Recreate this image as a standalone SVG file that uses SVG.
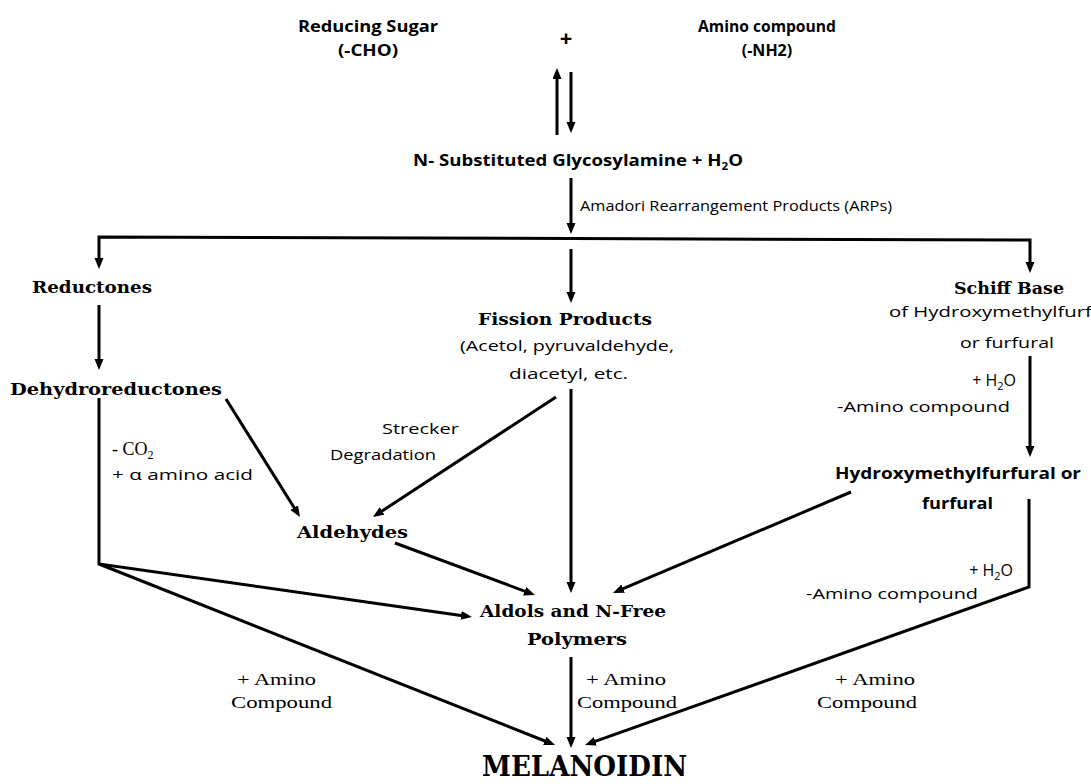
<svg xmlns="http://www.w3.org/2000/svg" width="1091" height="784" viewBox="0 0 1091 784">
<defs>
<marker id="ah" markerUnits="userSpaceOnUse" markerWidth="12" markerHeight="10" refX="7" refY="4.5" orient="auto-start-reverse">
<path d="M0,0 L11,4.5 L0,9 z" fill="#000"/>
</marker>
<style>
.sb{font-family:"Open Sans","Liberation Sans",sans-serif;font-weight:bold;font-size:16px;fill:#000}
.sr{font-family:"Open Sans","Liberation Sans",sans-serif;font-size:15px;fill:#000}
.h2o{font-size:16px}
.fb{font-family:"DejaVu Serif","Liberation Serif",serif;font-weight:bold;font-size:17px;fill:#000}
.fr{font-family:"Liberation Serif","Times New Roman",serif;font-size:17px;fill:#000}
.sub{font-size:11px}
.c{fill:none;stroke:#000;stroke-width:3}
.a{marker-end:url(#ah)}
</style>
</defs>
<rect width="1091" height="784" fill="#fff"/>

<g id="connectors">
<path class="c a" d="M557,135 L557,72"/>
<path class="c a" d="M571,72 L571,129"/>
<path class="c a" d="M571,178 L571,230"/>
<path class="c" d="M99,265 L99,237 L1030,240 L1030,269" marker-start="url(#ah)" marker-end="url(#ah)"/>
<path class="c a" d="M571,249 L571,299"/>
<path class="c a" d="M99,305 L99,366"/>
<path class="c a" d="M99,398 L99,564 L468,616.4"/>
<path class="c a" d="M99,564 L551.3,743.5"/>
<path class="c a" d="M226,399 L297.9,513.6"/>
<path class="c a" d="M556,397 L376.3,514.8"/>
<path class="c a" d="M571,389 L571,589"/>
<path class="c a" d="M395,543 L531.2,593.6"/>
<path class="c a" d="M851,492 L616.7,591.4"/>
<path class="c a" d="M1030,356 L1030,453"/>
<path class="c a" d="M1029,499 L1029,587 L588.8,743.7"/>
<path class="c a" d="M571,657 L571,744"/>
</g>

<g id="reactants">
<text class="sb" x="298" y="32" textLength="140" lengthAdjust="spacingAndGlyphs">Reducing Sugar</text>
<text class="sb" x="338" y="56" textLength="60" lengthAdjust="spacingAndGlyphs">(-CHO)</text>
<text class="sb" x="566" y="46" text-anchor="middle" style="font-size:22px">+</text>
<text class="sb" x="698" y="32" textLength="138" lengthAdjust="spacingAndGlyphs">Amino compound</text>
<text class="sb" x="767" y="56" text-anchor="middle">(-NH2)</text>
</g>

<g id="glycosylamine">
<text class="sb" x="413" y="166" textLength="330" lengthAdjust="spacingAndGlyphs">N- Substituted Glycosylamine + H<tspan style="font-size:10px" dy="4">2</tspan><tspan dy="-4">O</tspan></text>
<text class="sr" x="580" y="211" style="font-size:14px" textLength="312" lengthAdjust="spacingAndGlyphs">Amadori Rearrangement Products (ARPs)</text>
</g>

<g id="reductones">
<text class="fb" x="32" y="293" textLength="120" lengthAdjust="spacingAndGlyphs">Reductones</text>
</g>

<g id="dehydroreductones">
<text class="fb" x="10" y="395" textLength="212" lengthAdjust="spacingAndGlyphs">Dehydroreductones</text>
<text class="fr" x="112" y="455" style="font-size:18px">-  CO<tspan style="font-size:12px" dy="4">2</tspan></text>
<text class="sr" x="112" y="480" textLength="141" lengthAdjust="spacingAndGlyphs">+ α amino acid</text>
</g>

<g id="fission">
<text class="fb" x="478" y="325" textLength="174" lengthAdjust="spacingAndGlyphs">Fission Products</text>
<text class="sr" x="460" y="351" textLength="214" lengthAdjust="spacingAndGlyphs">(Acetol, pyruvaldehyde,</text>
<text class="sr" x="509" y="379" textLength="119" lengthAdjust="spacingAndGlyphs">diacetyl, etc.</text>
<text class="sr" x="382" y="434" textLength="77" lengthAdjust="spacingAndGlyphs">Strecker</text>
<text class="sr" x="330" y="460" textLength="106" lengthAdjust="spacingAndGlyphs">Degradation</text>
</g>

<g id="schiff">
<text class="fb" x="954" y="294" textLength="110" lengthAdjust="spacingAndGlyphs">Schiff Base</text>
<text class="sr" x="889" y="317" textLength="240" lengthAdjust="spacingAndGlyphs">of Hydroxymethylfurfural</text>
<text class="sr" x="960" y="348" textLength="94" lengthAdjust="spacingAndGlyphs">or furfural</text>
<text class="sr h2o" x="1016" y="386" text-anchor="end">+ H<tspan class="sub" dy="4">2</tspan><tspan dy="-4">O</tspan></text>
<text class="sr" x="837" y="412" textLength="173" lengthAdjust="spacingAndGlyphs">-Amino compound</text>
</g>

<g id="hmf">
<text class="sb" x="835" y="479" textLength="246" lengthAdjust="spacingAndGlyphs">Hydroxymethylfurfural or</text>
<text class="sb" x="922" y="509" textLength="71" lengthAdjust="spacingAndGlyphs">furfural</text>
<text class="sr h2o" x="1013" y="576" text-anchor="end">+ H<tspan class="sub" dy="4">2</tspan><tspan dy="-4">O</tspan></text>
<text class="sr" x="806" y="599" textLength="172" lengthAdjust="spacingAndGlyphs">-Amino compound</text>
</g>

<g id="aldehydes">
<text class="fb" x="297" y="538" textLength="111" lengthAdjust="spacingAndGlyphs">Aldehydes</text>
</g>

<g id="aldols">
<text class="fb" x="480" y="617" textLength="186" lengthAdjust="spacingAndGlyphs">Aldols and N-Free</text>
<text class="fb" x="527" y="645" textLength="100" lengthAdjust="spacingAndGlyphs">Polymers</text>
</g>

<g id="amino-labels">
<text class="fr" x="237" y="685" textLength="79" lengthAdjust="spacingAndGlyphs">+ Amino</text>
<text class="fr" x="231" y="708" textLength="101" lengthAdjust="spacingAndGlyphs">Compound</text>
<text class="fr" x="586" y="685" textLength="80" lengthAdjust="spacingAndGlyphs">+ Amino</text>
<text class="fr" x="577" y="708" textLength="100" lengthAdjust="spacingAndGlyphs">Compound</text>
<text class="fr" x="835" y="685" textLength="80" lengthAdjust="spacingAndGlyphs">+ Amino</text>
<text class="fr" x="817" y="708" textLength="100" lengthAdjust="spacingAndGlyphs">Compound</text>
</g>

<g id="melanoidin">
<text class="fb" x="482" y="776" textLength="205" lengthAdjust="spacingAndGlyphs" style="font-size:27px">MELANOIDIN</text>
</g>
</svg>
